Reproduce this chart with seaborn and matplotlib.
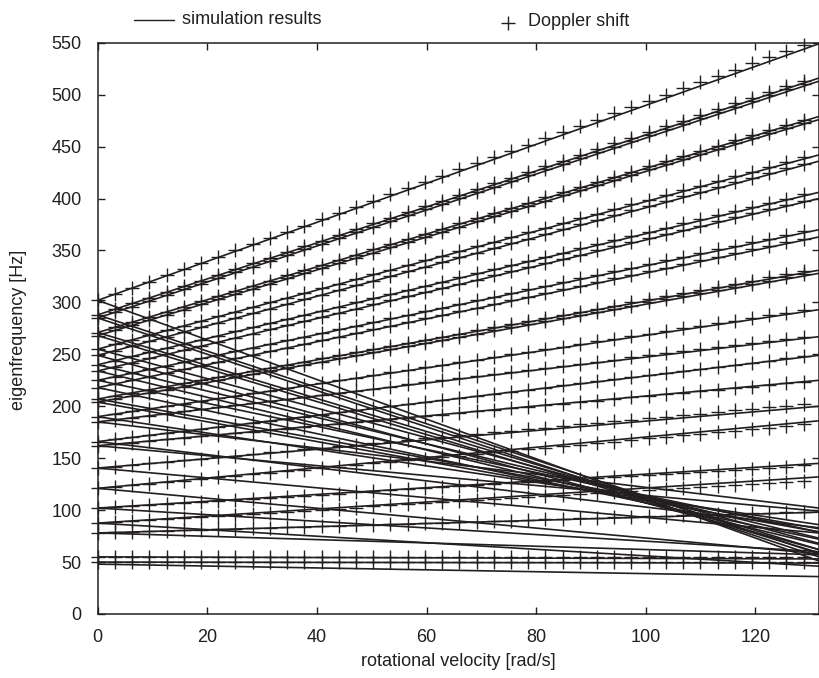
import numpy as np
import pandas as pd
import matplotlib
matplotlib.use("Agg")
import matplotlib.pyplot as plt
import seaborn as sns

# eigenfrequency at standstill [Hz] and circumferential order of each split mode pair
f0 = [302, 288, 285, 271, 268, 255, 249, 240, 234, 225, 218, 207, 204,
      190, 185, 166, 162, 140.5, 121, 102, 87.5, 78]
order = [12, 11, 11, 10, 10, 9, 9, 8, 8, 7, 7, 6, 6,
         5, 4, 4, 3, 3, 3, 2, 2, 1]
# simulated frequency at the right end of the axis (forward / backward branch)
sim_forward_end = [549, 516, 513, 479, 476, 442, 436, 406, 400, 370, 363, 331, 328,
                   293, 267, 249, 225, 200, 186, 145, 132, 98]
sim_backward_end = [51, 58, 55, 62, 59, 68, 62, 73, 67, 79, 72, 82, 79,
                    86, 102, 83, 99, 78, 58, 60, 46, 57]
# modes that barely move with rotation
flat_start = [55, 50, 48]
flat_end = [53, 49, 36]
flat_doppler = [True, True, False]

omega_max = 131.6
# Doppler estimate is evaluated every 0.5 Hz of rotational frequency
omega_doppler = np.pi * np.arange(0, 42)

ink = "#231f20"

sns.set_theme(style="ticks")
plt.rcParams["font.family"] = ["Liberation Sans", "DejaVu Sans"]

rows = []
for i in range(len(f0)):
    rows.append((f"f{i}", 0.0, f0[i]))
    rows.append((f"f{i}", omega_max, sim_forward_end[i]))
    rows.append((f"b{i}", 0.0, f0[i]))
    rows.append((f"b{i}", omega_max, sim_backward_end[i]))
for i in range(len(flat_start)):
    rows.append((f"z{i}", 0.0, flat_start[i]))
    rows.append((f"z{i}", omega_max, flat_end[i]))
sim = pd.DataFrame(rows, columns=["line", "omega", "freq"])

dop = []
for i in range(len(f0)):
    for w in omega_doppler:
        dop.append((w, f0[i] + order[i] * w / (2 * np.pi)))
for i in range(len(flat_start)):
    if flat_doppler[i]:
        for w in omega_doppler:
            dop.append((w, flat_start[i]))
dop = pd.DataFrame(dop, columns=["omega", "freq"])

fig = plt.figure(figsize=(8.19, 6.78), dpi=100)
ax = fig.add_axes([0.1193, 0.0944, 0.8807, 0.8426])

sns.lineplot(data=sim, x="omega", y="freq", units="line", estimator=None,
             color=ink, linewidth=1.2, ax=ax, legend=False)
# markers at omega = 0 stick out over the left axis, as in the original
sns.scatterplot(data=dop, x="omega", y="freq", marker="+", s=95,
                color=ink, linewidth=1.0, ax=ax, legend=False, clip_on=False)

ax.set_xlim(0, omega_max)
ax.set_ylim(0, 550)
ax.set_xticks(range(0, 121, 20))
ax.set_yticks(range(0, 551, 50))
ax.set_xlabel("")
ax.set_ylabel("")
ax.tick_params(direction="in", length=4.7, width=1.0, color=ink,
               labelsize=13, labelcolor=ink, top=True, right=True)
ax.tick_params(axis="y", pad=11.5)
ax.tick_params(axis="x", pad=10.5)
for s in ax.spines.values():
    s.set_color(ink)
    s.set_linewidth(1.1)

fig.text(458 / 819, 1 - 662 / 678, "rotational velocity [rad/s]",
         ha="center", va="center", fontsize=13, color=ink)
fig.text(19 / 819, 1 - 330 / 678, "eigenfrequency [Hz]", rotation=90,
         ha="center", va="center", fontsize=13, color=ink)

# legend drawn as figure text, like the original header
fig.lines.append(plt.Line2D([134 / 819, 174 / 819], [1 - 20 / 678, 1 - 20 / 678],
                            transform=fig.transFigure, color=ink, linewidth=1.0))
fig.text(182 / 819, 1 - 20 / 678, "simulation results", ha="left", va="center",
         fontsize=13, color=ink)
fig.lines.append(plt.Line2D([508 / 819], [1 - 23 / 678], transform=fig.transFigure,
                            marker="+", markersize=9.5, color=ink, linestyle="none"))
fig.text(528 / 819, 1 - 22 / 678, "Doppler shift", ha="left", va="center",
         fontsize=13, color=ink)

plt.savefig("out.png", dpi=100)
